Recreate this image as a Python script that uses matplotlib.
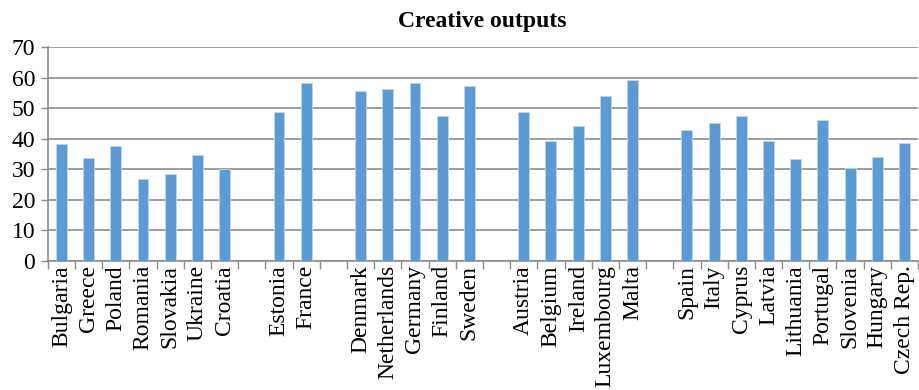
import numpy as np
import matplotlib.pyplot as plt

# country groups, separated by an empty slot on the axis
group1 = ["Bulgaria", "Greece", "Poland", "Romania", "Slovakia", "Ukraine", "Croatia"]
values1 = [38.1, 33.6, 37.6, 26.8, 28.5, 34.5, 30.0]
group2 = ["Estonia", "France"]
values2 = [48.7, 58.2]
group3 = ["Denmark", "Netherlands", "Germany", "Finland", "Sweden"]
values3 = [55.7, 56.2, 58.1, 47.4, 57.2]
group4 = ["Austria", "Belgium", "Ireland", "Luxembourg", "Malta"]
values4 = [48.8, 39.3, 44.0, 54.0, 59.1]
group5 = ["Spain", "Italy", "Cyprus", "Latvia", "Lithuania", "Portugal", "Slovenia", "Hungary", "Czech Rep."]
values5 = [42.9, 45.1, 47.4, 39.3, 33.4, 46.0, 30.5, 34.0, 38.5]

yticks = [0, 10, 20, 30, 40, 50, 60, 70]

groups = [(group1, values1), (group2, values2), (group3, values3), (group4, values4), (group5, values5)]
labels, values = [], []
for i, (names, vals) in enumerate(groups):
    if i > 0:
        labels.append("")
        values.append(np.nan)
    labels += names
    values += vals

plt.rcParams["font.family"] = ["Liberation Serif", "DejaVu Serif"]

fig = plt.figure(figsize=(9.19, 3.9), dpi=100)
ax = fig.add_axes([0.052, 0.331, 0.947, 0.5485])

x = np.arange(len(labels))
ax.bar(x, values, width=0.4, color="#5B9BD5", edgecolor="#BDD7EE", linewidth=0.6, zorder=3)

ax.set_xlim(-0.5, len(labels) - 0.5)
ax.set_ylim(0, 70)
ax.set_yticks(yticks)
ax.tick_params(axis="y", length=5, width=1, color="#8C8C8C", labelsize=17, pad=4)
ax.yaxis.grid(True, color="#8C8C8C", linewidth=1.2, zorder=0)

# labels under each category, tick marks on the category boundaries
ax.set_xticks(x)
ax.set_xticklabels(labels, rotation=90, fontsize=17)
ax.tick_params(axis="x", which="major", length=0, pad=3)
ax.set_xticks(np.arange(len(labels) + 1) - 0.5, minor=True)
ax.tick_params(axis="x", which="minor", length=6, width=1, color="#8C8C8C")

for side in ["top", "right"]:
    ax.spines[side].set_visible(False)
ax.spines["left"].set_color("#8C8C8C")
ax.spines["bottom"].set_color("#8C8C8C")
ax.spines["left"].set_linewidth(1.2)
ax.spines["bottom"].set_linewidth(1.2)

fig.text(0.525, 0.945, "Creative outputs", ha="center", va="center", fontsize=17, fontweight="bold")

fig.savefig("out.png", dpi=100)
